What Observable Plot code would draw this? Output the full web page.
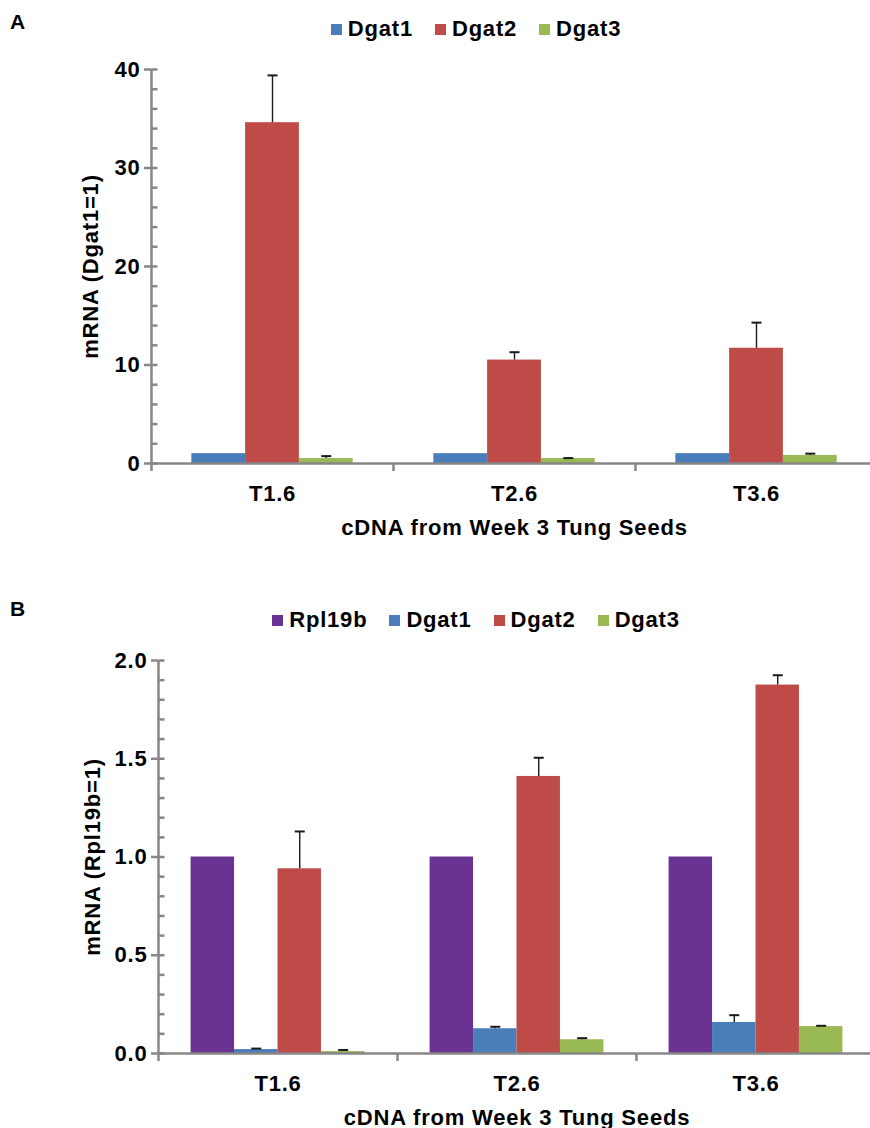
<!DOCTYPE html>
<html>
<head>
<meta charset="utf-8">
<script src="https://cdn.jsdelivr.net/npm/d3@7"></script>
<script src="https://cdn.jsdelivr.net/npm/@observablehq/plot@0.6"></script>
<style>
  html, body { margin: 0; padding: 0; background: #fff; overflow: hidden; }
  body { width: 870px; height: 1128px; position: relative; font-family: "Liberation Sans", Arial, sans-serif; }
  .panel { position: absolute; left: 0; width: 870px; }
  .plabel { position: absolute; left: 10px; font-weight: bold; font-size: 21px; line-height: 21px; }
  .legend { position: absolute; left: 0; width: 952px; display: flex; justify-content: center; gap: 22px;
            font-weight: bold; font-size: 22px; letter-spacing: 0.8px; line-height: 22px; }
  .legend span.item { display: flex; align-items: center; }
  .legend span.sw { display: inline-block; width: 11px; height: 11px; margin-right: 6px; }
  .chart { position: absolute; left: 0; }
</style>
</head>
<body>
<div id="panelA" class="panel" style="top:0; height:560px;">
  <div class="plabel" style="top:11px;">A</div>
  <div class="legend" id="legendA" style="top:18px;"></div>
  <div class="chart" id="chartA" style="top:50px;"></div>
</div>
<div id="panelB" class="panel" style="top:590px; height:538px;">
  <div class="plabel" style="top:8px;">B</div>
  <div class="legend" id="legendB" style="top:19px;"></div>
  <div class="chart" id="chartB" style="top:50px;"></div>
</div>
<script>
// ---------------- data ----------------
const categories = ["T1.6", "T2.6", "T3.6"];

// Panel A (normalised to Dgat1 = 1)
const seriesA = ["Dgat1", "Dgat2", "Dgat3"];
const dgat1A = [1, 1, 1];
const dgat2A = [34.6, 10.5, 11.7];
const dgat3A = [0.5, 0.5, 0.82];
const errDgat1A = [0, 0, 0];
const errDgat2A = [4.8, 0.8, 2.6];
const errDgat3A = [0.25, 0.05, 0.18];
const yTicksA = [0, 10, 20, 30, 40];
const yLabelA = "mRNA (Dgat1=1)";

// Panel B (normalised to Rpl19b = 1)
const seriesB = ["Rpl19b", "Dgat1", "Dgat2", "Dgat3"];
const rpl19bB = [1, 1, 1];
const dgat1B = [0.02, 0.126, 0.158];
const dgat2B = [0.94, 1.41, 1.875];
const dgat3B = [0.01, 0.07, 0.137];
const errRpl19bB = [0, 0, 0];
const errDgat1B = [0.005, 0.01, 0.037];
const errDgat2B = [0.19, 0.095, 0.05];
const errDgat3B = [0.008, 0.008, 0.004];
const yTicksB = [0, 0.5, 1, 1.5, 2];
const yLabelB = "mRNA (Rpl19b=1)";

const xTitle = "cDNA from Week 3 Tung Seeds";

const seriesColors = {Rpl19b: "#6A3292", Dgat1: "#4A7EBB", Dgat2: "#BE4B48", Dgat3: "#98B954"};

// ---------------- helpers ----------------
const axisGray = "#878787";
const fontStyle = {fontFamily: "'Liberation Sans', Arial, sans-serif", fontSize: "22px", fontWeight: "bold", letterSpacing: "0.8px", overflow: "visible"};

const capSymbol = {draw(ctx, size) { const r = Math.sqrt(size / Math.PI); ctx.moveTo(-r, 0); ctx.lineTo(r, 0); }};
const innerTickSymbol = {draw(ctx, size) { const r = Math.sqrt(size / Math.PI); ctx.moveTo(0, 0); ctx.lineTo(r, 0); }};

function buildRows(series, values, errors) {
  const n = series.length;
  const w = 1 / (n + 1.5); // Excel gap width 150%
  const rows = [];
  series.forEach((s, si) => {
    categories.forEach((c, ci) => {
      const x1 = ci + 0.75 * w + si * w;
      rows.push({series: s, category: c, value: values[si][ci], error: errors[si][ci], x1, x2: x1 + w, xc: x1 + w / 2});
    });
  });
  return rows;
}

function legend(el, series) {
  const root = document.getElementById(el);
  series.forEach(s => {
    const it = document.createElement("span");
    it.className = "item";
    const sw = document.createElement("span");
    sw.className = "sw";
    sw.style.background = seriesColors[s];
    it.appendChild(sw);
    it.appendChild(document.createTextNode(s));
    root.appendChild(it);
  });
}

function chart({el, series, values, errors, yMax, yTicks, minorStep, yFormat, yLabel, height, marginTop, marginBottom, marginLeft, marginRight, yTitleDx}) {
  const rows = buildRows(series, values, errors);
  const errRows = rows.filter(d => d.error > 0);
  const minor = d3.range(0, yMax + minorStep / 2, minorStep).map(v => +v.toFixed(6));
  const p = Plot.plot({
    width: 870, height, marginTop, marginBottom, marginLeft, marginRight,
    style: fontStyle,
    x: {domain: [0, categories.length]},
    y: {domain: [0, yMax]},
    marks: [
      Plot.rectY(rows, {x1: "x1", x2: "x2", y1: 0, y2: "value", fill: d => seriesColors[d.series]}),
      Plot.ruleX(errRows, {x: "xc", y1: "value", y2: d => d.value + d.error, stroke: "#1a1a1a", strokeWidth: 1.4}),
      Plot.dot(errRows, {x: "xc", y: d => d.value + d.error, symbol: capSymbol, r: 5, stroke: "#1a1a1a", strokeWidth: 2, fill: "none"}),
      // y axis line, ticks and labels
      Plot.ruleX([0], {stroke: axisGray, strokeWidth: 2.5}),
      Plot.dot(minor, {x: 0, y: d => d, symbol: innerTickSymbol, r: 6, stroke: axisGray, strokeWidth: 2.5, fill: "none"}),
      Plot.axisY({ticks: yTicks, tickSize: 7, tickPadding: 4, tickFormat: yFormat, stroke: axisGray, strokeWidth: 2.5, fill: "black", label: null}),
      // x axis line, category boundary ticks, category labels
      Plot.ruleY([0], {stroke: axisGray, strokeWidth: 2.5}),
      Plot.axisX({ticks: d3.range(0, categories.length + 1), tickSize: 8, tickFormat: () => "", stroke: axisGray, strokeWidth: 2.5, label: null}),
      Plot.text(categories, {x: (d, i) => i + 0.5, y: 0, text: d => d, dy: 30, fill: "black"}),
      // axis titles
      Plot.text([xTitle], {frameAnchor: "bottom", lineAnchor: "middle", textAnchor: "middle", dy: 64, text: d => d, fill: "black"}),
      Plot.text([yLabel], {frameAnchor: "left", lineAnchor: "middle", textAnchor: "middle", dx: yTitleDx, rotate: -90, text: d => d, fill: "black"})
    ]
  });
  document.getElementById(el).appendChild(p);
}

// ---------------- panels ----------------
legend("legendA", seriesA);
chart({
  el: "chartA", series: seriesA,
  values: [dgat1A, dgat2A, dgat3A], errors: [errDgat1A, errDgat2A, errDgat3A],
  yMax: 40, yTicks: yTicksA, minorStep: 2, yFormat: d3.format("d"), yLabel: yLabelA,
  height: 500, marginTop: 19, marginBottom: 87, marginLeft: 151, marginRight: -7, yTitleDx: -61
});

legend("legendB", seriesB);
chart({
  el: "chartB", series: seriesB,
  values: [rpl19bB, dgat1B, dgat2B, dgat3B], errors: [errRpl19bB, errDgat1B, errDgat2B, errDgat3B],
  yMax: 2, yTicks: yTicksB, minorStep: 0.1, yFormat: d3.format(".1f"), yLabel: yLabelB,
  height: 488, marginTop: 20, marginBottom: 75, marginLeft: 158, marginRight: -5, yTitleDx: -66
});
</script>
</body>
</html>
